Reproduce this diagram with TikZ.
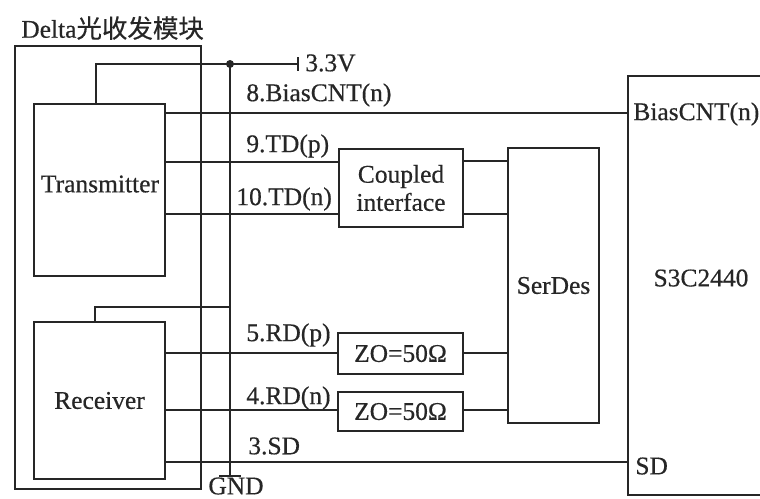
\documentclass[tikz,border=0pt]{standalone}
\usepackage{fontspec}
\setmainfont{Liberation Serif}[RawFeature={embolden=0.5}]
\newfontfamily\cjk{Noto Sans CJK SC}[RawFeature={embolden=0.4}]
\tikzset{
  box/.style={draw=black!85, line width=1.5pt, outer sep=0pt, inner sep=0pt, font=\fontsize{14.5}{16}\selectfont, text=black!85},
  txt/.style={inner sep=0pt, font=\fontsize{14.5}{16}\selectfont, text=black!85},
  wire/.style={draw=black!85, line width=1.4pt}
}
\begin{document}
\begin{tikzpicture}[x=0.02cm, y=-0.02cm]
    \useasboundingbox (0,0) rectangle (760,498);
    \clip (0,0) rectangle (760,498);
    % Cutii
    \node[box, minimum width=3.72cm, minimum height=8.86cm] (module) at (108,267.5) {};
    \node[box, minimum width=2.62cm, minimum height=3.44cm] (tx) at (99.5,190) {};
    \node[box, minimum width=2.62cm, minimum height=3.14cm] (rx) at (99.5,400.5) {Receiver};
    \node[box, minimum width=2.48cm, minimum height=1.56cm, align=center] (cpl) at (401,188)
      {Coupled\\interface};
    \node[box, minimum width=2.50cm, minimum height=0.82cm] (zoa) at (400.5,353.5) {ZO=50Ω};
    \node[box, minimum width=2.50cm, minimum height=0.78cm] (zob) at (400.5,411.5) {ZO=50Ω};
    \node[box, minimum width=1.82cm, minimum height=5.50cm] (serdes) at (553.5,285.5) {SerDes};
    \node[box, minimum width=2.92cm, minimum height=8.38cm] (s3c) at (701,285.5) {};
    % Etichete
    \node[txt, anchor=west] (title) at (21,28) {Delta{\cjk 光收发模块}};
    \node[txt] (txname) at (100,184) {Transmitter};
    \node[txt] (s3cname) at (701,278) {S3C2440};
    \node[txt, anchor=west] (vname) at (305,63) {3.3V};
    \node[txt] (gname) at (236,486) {GND};
    \node[txt, anchor=west] (l8) at (246,95) {8.BiasCNT(n)};
    \node[txt, anchor=west] (l9) at (246,146) {9.TD(p)};
    \node[txt, anchor=west] (l10) at (236,199) {10.TD(n)};
    \node[txt, anchor=west] (l5) at (246,335) {5.RD(p)};
    \node[txt, anchor=west] (l4) at (246,398) {4.RD(n)};
    \node[txt, anchor=west] (l3) at (248,446) {3.SD};
    \node[txt, anchor=west] (pbias) at (633,114) {BiasCNT(n)};
    \node[txt, anchor=west] (psd) at (635,466) {SD};
    % Semnale
    \foreach \y/\a/\b in {113/tx/s3c, 162/tx/cpl, 214/tx/cpl, 353/rx/zoa, 410/rx/zob, 462/rx/s3c} {
      \coordinate (w\y) at (0,\y);
      \draw[wire] (\a.east |- w\y) -- (\b.west |- w\y);
    }
    % Spre SerDes
    \foreach \y/\a in {161/cpl, 214/cpl, 353/zoa, 410/zob} {
      \coordinate (o\y) at (0,\y);
      \draw[wire] (\a.east |- o\y) -- (serdes.west |- o\y);
    }
    % Alimentare
    \coordinate (vdd) at (298,64);
    \coordinate (vtop) at (298,57);
    \coordinate (vbot) at (298,71);
    \coordinate (join) at (230,64);
    \coordinate (gnd) at (230,476);
    \coordinate (gl) at (219,476);
    \coordinate (gr) at (241,476);
    \coordinate (rxp) at (230,307);
    \coordinate (txt0) at (96,64);
    \coordinate (rxt0) at (95,307);
    \draw[wire] (tx.north -| txt0) -- (txt0) -- (vdd);
    \draw[wire] (vtop) -- (vbot);
    \draw[wire] (join) -- (gnd);
    \draw[wire] (gl) -- (gr);
    \draw[wire] (rx.north -| rxt0) -- (rxt0) -- (rxp);
    \fill[black!85] (join) circle (0.08cm);
  \end{tikzpicture}
\end{document}
